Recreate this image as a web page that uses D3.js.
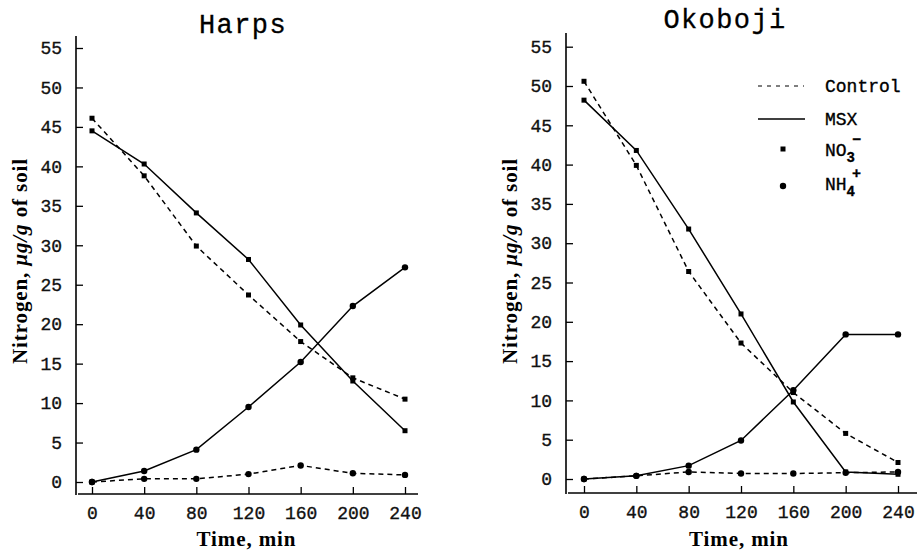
<!DOCTYPE html>
<html>
  <head>
    <meta charset="utf-8">
    <script src="https://cdn.jsdelivr.net/npm/d3@7"></script>
    <style>
        body { margin: 0; background: #fff; }
        .tick text { font-family: "Liberation Mono", monospace; font-size: 18px; fill: #111; stroke: #111; stroke-width: 0.35px; }
        .title { font-family: "Liberation Mono", monospace; font-size: 27px; letter-spacing: 1.4px; stroke: #000; stroke-width: 0.3px; }
        .axlabel { font-family: "Liberation Serif", serif; font-weight: bold; font-size: 21px; letter-spacing: 0.9px; }
        .legend { font-family: "Liberation Mono", monospace; font-size: 18px; stroke: #000; stroke-width: 0.35px; }
    </style>
  </head>
  <body>
    <div id="chart"></div>
  </body>

  <script>
    const times = [0, 40, 80, 120, 160, 200, 240];
    const yTicks = [0, 5, 10, 15, 20, 25, 30, 35, 40, 45, 50, 55];

    const harpsControlNO3 = [46.1, 38.8, 29.9, 23.7, 17.8, 13.2, 10.5];
    const harpsMsxNO3     = [44.5, 40.3, 34.1, 28.2, 19.9, 12.8, 6.5];
    const harpsControlNH4 = [0, 0.4, 0.4, 1.0, 2.1, 1.1, 0.9];
    const harpsMsxNH4     = [0, 1.4, 4.1, 9.5, 15.2, 22.3, 27.2];

    const okobojiControlNO3 = [50.6, 39.9, 26.4, 17.3, 11.0, 5.8, 2.1];
    const okobojiMsxNO3     = [48.2, 41.8, 31.8, 21.0, 9.8, 0.9, 0.6];
    const okobojiControlNH4 = [0, 0.4, 0.9, 0.7, 0.7, 0.8, 0.9];
    const okobojiMsxNH4     = [0, 0.4, 1.7, 4.9, 11.3, 18.4, 18.4];

    let svg = d3.select("#chart")
                .append("svg")
                    .attr("width", 917)
                    .attr("height", 550);

    let panels = [
      { title: "Harps", tx: 243, ty: 33, xr: [92, 405], yr: [482, 48], axisX: 76, axisY: 494, xEnd: 418, yTop: 36, labelX: 20,
        series: [
          { values: harpsControlNO3, dash: true,  mark: "square" },
          { values: harpsMsxNO3,     dash: false, mark: "square" },
          { values: harpsControlNH4, dash: true,  mark: "circle" },
          { values: harpsMsxNH4,     dash: false, mark: "circle" }
        ] },
      { title: "Okoboji", tx: 725, ty: 28, xr: [584, 898], yr: [479, 46.7], axisX: 566, axisY: 493, xEnd: 917, yTop: 33, labelX: 510,
        series: [
          { values: okobojiControlNO3, dash: true,  mark: "square" },
          { values: okobojiMsxNO3,     dash: false, mark: "square" },
          { values: okobojiControlNH4, dash: true,  mark: "circle" },
          { values: okobojiMsxNH4,     dash: false, mark: "circle" }
        ] }
    ];

    panels.forEach(function(p) {
        let x = d3.scaleLinear().domain([0, 240]).range(p.xr);
        let y = d3.scaleLinear().domain([0, 55]).range(p.yr);

        // axis lines
        svg.append("line")
           .attr("x1", p.axisX).attr("x2", p.axisX)
           .attr("y1", p.yTop).attr("y2", p.axisY + 1)
           .attr("stroke", "black").attr("stroke-width", 1.6);
        svg.append("line")
           .attr("x1", p.axisX + 2).attr("x2", p.xEnd)
           .attr("y1", p.axisY).attr("y2", p.axisY)
           .attr("stroke", "black").attr("stroke-width", 1.6);

        // ticks point inward
        let gy = svg.append("g")
           .attr("transform", "translate(" + p.axisX + ",0)")
           .call(d3.axisLeft(y).tickValues(yTicks).tickSize(-7).tickPadding(14));
        let gx = svg.append("g")
           .attr("transform", "translate(0," + p.axisY + ")")
           .call(d3.axisBottom(x).tickValues(times).tickSize(-7).tickPadding(12));
        [gy, gx].forEach(function(g) {
            g.select(".domain").remove();
            g.selectAll(".tick line").attr("stroke", "black").attr("stroke-width", 1.3);
        });

        svg.append("text")
           .attr("class", "title")
           .attr("x", p.tx).attr("y", p.ty)
           .attr("text-anchor", "middle")
           .text(p.title);

        svg.append("text")
           .attr("class", "axlabel")
           .attr("x", (p.xr[0] + p.xr[1]) / 2 - 2)
           .attr("y", 546)
           .attr("text-anchor", "middle")
           .text("Time, min");

        let yl = svg.append("text")
           .attr("class", "axlabel")
           .attr("transform", "translate(" + (p.labelX + 7) + ",261) rotate(-90)")
           .attr("text-anchor", "middle");
        yl.append("tspan").text("Nitrogen, ");
        yl.append("tspan").attr("font-style", "italic").text("\u03bcg/g");
        yl.append("tspan").text(" of soil");

        let line = d3.line()
                     .x(function(d, i) { return x(times[i]); })
                     .y(function(d) { return y(d); });

        p.series.forEach(function(s) {
            svg.append("path")
               .datum(s.values)
               .attr("fill", "none")
               .attr("stroke", "black")
               .attr("stroke-width", 1.5)
               .attr("stroke-dasharray", s.dash ? "5,4" : null)
               .attr("d", line);

            if (s.mark === "square") {
                svg.append("g").selectAll("rect")
                   .data(s.values)
                   .enter()
                   .append("rect")
                     .attr("x", function(d, i) { return x(times[i]) - 2.5; })
                     .attr("y", function(d) { return y(d) - 2.5; })
                     .attr("width", 5).attr("height", 5)
                     .attr("fill", "black");
            } else {
                svg.append("g").selectAll("circle")
                   .data(s.values)
                   .enter()
                   .append("circle")
                     .attr("cx", function(d, i) { return x(times[i]); })
                     .attr("cy", function(d) { return y(d); })
                     .attr("r", 3.2)
                     .attr("fill", "black");
            }
        });
    });

    // legend (right panel)
    let lg = svg.append("g");
    lg.append("line").attr("x1", 758).attr("x2", 804).attr("y1", 86).attr("y2", 86)
      .attr("stroke", "black").attr("stroke-width", 1.2).attr("stroke-dasharray", "4,5");
    lg.append("line").attr("x1", 758).attr("x2", 805).attr("y1", 119).attr("y2", 119)
      .attr("stroke", "black").attr("stroke-width", 1.4);
    lg.append("rect").attr("x", 780.5).attr("y", 146.5).attr("width", 5).attr("height", 5).attr("fill", "black");
    lg.append("circle").attr("cx", 783).attr("cy", 186).attr("r", 3.2).attr("fill", "black");

    lg.append("text").attr("class", "legend").attr("x", 825).attr("y", 92).text("Control");
    lg.append("text").attr("class", "legend").attr("x", 825).attr("y", 125).text("MSX");
    let no3 = lg.append("text").attr("class", "legend").attr("x", 825).attr("y", 156);
    no3.append("tspan").text("NO");
    no3.append("tspan").attr("dy", 6).attr("font-size", 14).attr("font-weight", "bold").text("3");
    no3.append("tspan").attr("dx", -3).attr("dy", -18).attr("font-size", 15).attr("font-weight", "bold").text("\u2212");
    let nh4 = lg.append("text").attr("class", "legend").attr("x", 825).attr("y", 190);
    nh4.append("tspan").text("NH");
    nh4.append("tspan").attr("dy", 6).attr("font-size", 14).attr("font-weight", "bold").text("4");
    nh4.append("tspan").attr("dx", -3).attr("dy", -18).attr("font-size", 15).attr("font-weight", "bold").text("+");
  </script>
</html>
